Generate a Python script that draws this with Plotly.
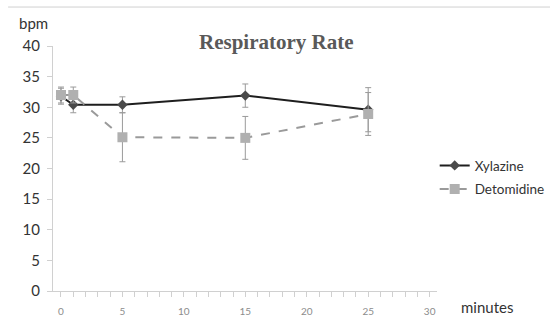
import plotly.graph_objects as go

minutes_xyl = [0, 1, 5, 15, 25]
xylazine = [31.8, 30.4, 30.4, 31.9, 29.6]
xylazine_err = [1.3, 1.3, 1.3, 1.9, 3.6]

minutes_det = [0, 1, 5, 15, 25]
detomidine = [32.0, 32.0, 25.1, 25.0, 28.9]
detomidine_err = [1.3, 1.3, 4.0, 3.5, 3.5]

x_ticks = [0, 5, 10, 15, 20, 25, 30]
y_ticks = [0, 5, 10, 15, 20, 25, 30, 35, 40]

fig = go.Figure()
fig.add_trace(go.Scatter(
    x=minutes_xyl, y=xylazine, name="Xylazine", mode="lines+markers",
    line=dict(color="#1e1e1e", width=2),
    marker=dict(symbol="diamond", size=8, color="#4a4a4a"),
    error_y=dict(type="data", array=xylazine_err, color="#9a9a9a", thickness=1, width=3),
    legendgroup="a",
))
fig.add_trace(go.Scatter(
    x=minutes_det, y=detomidine, name="Detomidine", mode="lines+markers",
    line=dict(color="#9a9a9a", width=2, dash="dash"),
    marker=dict(symbol="square", size=10, color="#b0b0b0"),
    error_y=dict(type="data", array=detomidine_err, color="#9a9a9a", thickness=1, width=3),
    legendgroup="b",
))

fig.update_layout(
    width=550, height=321,
    margin=dict(l=53, r=113, t=46, b=30, autoexpand=False),
    paper_bgcolor="white", plot_bgcolor="white",
    font=dict(family="Lato, Open Sans, sans-serif", color="#333333"),
    showlegend=True,
    legend=dict(x=0.994, y=0.575, xanchor="left", yanchor="top", itemwidth=30,
                font=dict(size=13.5, color="#333333"), tracegroupgap=3,
                bgcolor="rgba(0,0,0,0)"),
    xaxis=dict(range=[-0.65, 30.6], tickvals=x_ticks, ticks="outside", ticklen=5,
               tickcolor="#d0d0d0", showline=True, linecolor="#d0d0d0", linewidth=1,
               showgrid=False, zeroline=False, ticklabelstandoff=6, automargin=False,
               tickfont=dict(size=10, color="#8c8c8c"),
               minor=dict(dtick=1, ticks="outside", ticklen=5, tickcolor="#d0d0d0")),
    yaxis=dict(range=[0, 40], tickvals=y_ticks, ticks="outside", ticklen=5,
               tickcolor="#d0d0d0", showline=True, linecolor="#d0d0d0", linewidth=1,
               showgrid=False, zeroline=False, ticklabelstandoff=4, automargin=False,
               tickfont=dict(size=15, color="#333333")),
    annotations=[
        dict(text="<b>Respiratory Rate</b>", xref="paper", yref="paper",
             x=0.583, y=1.015, xanchor="center", yanchor="middle", showarrow=False,
             font=dict(family="Liberation Serif, Times New Roman, serif", size=21, color="#595959")),
        dict(text="bpm", xref="paper", yref="paper", x=-0.05, y=1.093,
             xanchor="center", yanchor="middle", showarrow=False,
             font=dict(size=15, color="#333333")),
        dict(text="minutes", xref="paper", yref="paper", x=1.13, y=-0.065,
             xanchor="center", yanchor="middle", showarrow=False,
             font=dict(size=15, color="#333333")),
    ],
    shapes=[
        dict(type="line", xref="paper", yref="paper", x0=-0.117, x1=1.3,
             y0=1.159, y1=1.159, line=dict(color="#d0d0d0", width=1)),
    ],
)

fig.write_html("out.html")
